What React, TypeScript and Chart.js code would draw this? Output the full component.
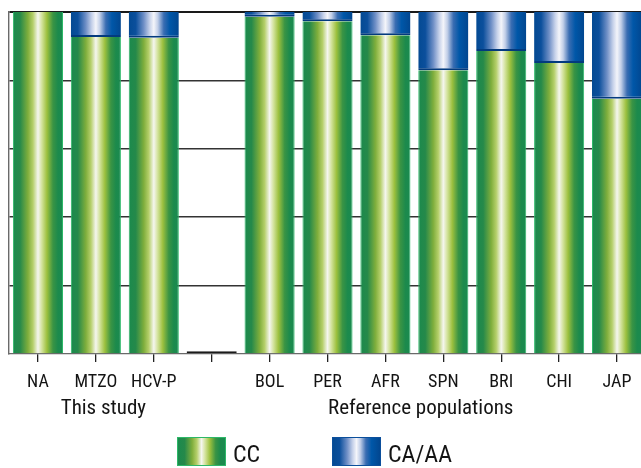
import { useEffect, useRef } from 'react';
import { Chart, registerables } from 'chart.js';

Chart.register(...registerables);

// Genotype frequencies (%) per population
const categories = ['NA', 'MTZO', 'HCV-P', '', 'BOL', 'PER', 'AFR', 'SPN', 'BRI', 'CHI', 'JAP'];
const ccValues = [100, 92.7, 92.5, null, 98.6, 97.3, 93.2, 83.0, 88.6, 85.1, 74.6];
const caaaValues = [0, 7.3, 7.5, null, 1.4, 2.7, 6.8, 17.0, 11.4, 14.9, 25.4];
const spacerValues = [null, null, null, 0.8, null, null, null, null, null, null, null];
const seriesNames = ['CC', 'CA/AA'];
const groupNames = ['This study', 'Reference populations'];
const yTicks = [0, 20, 40, 60, 80, 100];

const CONDENSED = '"Roboto Condensed", "Liberation Sans", Arial, sans-serif';
const BAR_PCT = 0.865;

const greenStops: [number, string][] = [
  [0, '#1b8a4d'],
  [0.14, '#25894a'],
  [0.3, '#7fae3c'],
  [0.4, '#b5cf6a'],
  [0.5, '#f5f6ef'],
  [0.58, '#d2e29a'],
  [0.68, '#9cc03e'],
  [0.8, '#3a9444'],
  [0.9, '#1c8a4c'],
  [1, '#1a8a50'],
];
const blueStops: [number, string][] = [
  [0, '#044a93'],
  [0.14, '#0b4f9c'],
  [0.3, '#6f8fc6'],
  [0.42, '#c7d2ea'],
  [0.5, '#f4f5fa'],
  [0.58, '#c2cfe8'],
  [0.7, '#3a6db2'],
  [0.82, '#0057a8'],
  [1, '#02468f'],
];

function makeGradient(c: CanvasRenderingContext2D, x0: number, x1: number, stops: [number, string][]) {
  const g = c.createLinearGradient(x0, 0, x1, 0);
  stops.forEach(([o, col]) => g.addColorStop(o, col));
  return g;
}

function barFill(stops: [number, string][], fallback: string) {
  return (ctx: any) => {
    if (ctx.type !== 'data') return fallback;
    const xs = ctx.chart.scales.x;
    if (!xs) return fallback;
    const cx = xs.getPixelForValue(ctx.dataIndex);
    const w = (xs.width / categories.length) * BAR_PCT;
    if (!Number.isFinite(cx) || !Number.isFinite(w) || w <= 0) return fallback;
    return makeGradient(ctx.chart.ctx, cx - w / 2, cx + w / 2, stops);
  };
}

// Second row of x-axis captions naming the two population groups
const groupLabelsPlugin = {
  id: 'groupLabels',
  afterDraw(chart: any) {
    const xs = chart.scales.x;
    const c = chart.ctx as CanvasRenderingContext2D;
    const anchors = [1.13, 6.61];
    c.save();
    c.font = `21px ${CONDENSED}`;
    c.fillStyle = '#141414';
    c.textAlign = 'center';
    c.textBaseline = 'alphabetic';
    groupNames.forEach((name, i) => c.fillText(name, xs.getPixelForValue(anchors[i]), xs.top + 60));
    c.restore();
  },
};

// Legend with gradient swatches
const swatchLegendPlugin = {
  id: 'swatchLegend',
  afterDraw(chart: any) {
    const c = chart.ctx as CanvasRenderingContext2D;
    const boxW = 49;
    const boxH = 29;
    const top = 437;
    const textGap = 7;
    const itemX = [177, 332];
    const swatches = [
      { stops: greenStops, border: '#2db868' },
      { stops: blueStops, border: '#0b4f9c' },
    ];
    c.save();
    c.font = `24px ${CONDENSED}`;
    seriesNames.forEach((name, i) => {
      const s = swatches[i];
      const x = itemX[i];
      c.fillStyle = s.border;
      c.fillRect(x, top, boxW, boxH);
      c.fillStyle = makeGradient(c, x + 1, x + boxW - 1, s.stops);
      c.fillRect(x + 1, top + 1, boxW - 2, boxH - 2);
      c.fillStyle = '#141414';
      c.textAlign = 'left';
      c.textBaseline = 'alphabetic';
      c.fillText(name, x + boxW + textGap, top + 25);
    });
    c.restore();
  },
};

export default function App() {
  const canvasRef = useRef<HTMLCanvasElement | null>(null);

  useEffect(() => {
    const canvas = canvasRef.current;
    if (!canvas) return;
    const chart = new Chart(canvas, {
      type: 'bar',
      data: {
        labels: categories,
        datasets: [
          {
            label: seriesNames[0],
            data: ccValues,
            backgroundColor: barFill(greenStops, '#7fae3c'),
            borderColor: '#2db868',
            borderWidth: { left: 1, right: 1, top: 0, bottom: 0 },
            borderSkipped: false,
            barPercentage: BAR_PCT,
            categoryPercentage: 1,
          },
          {
            label: seriesNames[1],
            data: caaaValues,
            backgroundColor: barFill(blueStops, '#0b4f9c'),
            borderColor: '#033a7e',
            borderWidth: { left: 0, right: 0, top: 0, bottom: 2 },
            borderSkipped: false,
            barPercentage: BAR_PCT,
            categoryPercentage: 1,
          },
          {
            label: '',
            data: spacerValues,
            backgroundColor: '#1a1a1a',
            borderColor: '#1a1a1a',
            borderWidth: 1,
            borderSkipped: false,
            barPercentage: BAR_PCT,
            categoryPercentage: 1,
            clip: 4,
          },
        ],
      } as any,
      options: {
        animation: false,
        responsive: false,
        maintainAspectRatio: false,
        layout: { padding: { top: 12, left: 0, right: 0, bottom: 0 } },
        plugins: {
          legend: { display: false },
          tooltip: { enabled: false },
        },
        scales: {
          x: {
            stacked: true,
            offset: true,
            grid: {
              display: true,
              drawOnChartArea: false,
              drawTicks: true,
              tickLength: 8,
              offset: false,
              color: '#222',
              lineWidth: 1.3,
            },
            border: { display: true, color: '#6a6a6a', width: 1.3 },
            ticks: {
              color: '#141414',
              font: { size: 18, family: CONDENSED },
              padding: 10,
              maxRotation: 0,
              autoSkip: false,
            },
            afterFit: (s: any) => {
              s.height = 114;
            },
          },
          y: {
            stacked: true,
            min: 0,
            max: 100,
            afterBuildTicks: (s: any) => {
              s.ticks = yTicks.map((v) => ({ value: v }));
            },
            ticks: { display: false },
            grid: {
              drawTicks: false,
              tickLength: 0,
              color: (ctx: any) =>
                ctx.tick && ctx.tick.value === 0 ? 'rgba(0,0,0,0)' : ctx.tick && ctx.tick.value === 100 ? '#1a1a1a' : '#333',
              lineWidth: (ctx: any) => (ctx.tick && ctx.tick.value === 100 ? 2 : 1.6),
            },
            border: { display: true, color: '#6a6a6a', width: 1.4 },
            afterFit: (s: any) => {
              s.width = 9;
            },
          },
        },
      },
      plugins: [groupLabelsPlugin, swatchLegendPlugin],
    });
    return () => chart.destroy();
  }, []);

  return (
    <div
      style={{
        position: 'fixed',
        left: 0,
        top: 0,
        width: 641,
        height: 468,
        overflow: 'hidden',
        background: '#fff',
      }}
    >
      <canvas ref={canvasRef} width={646} height={468} style={{ display: 'block' }} />
    </div>
  );
}
